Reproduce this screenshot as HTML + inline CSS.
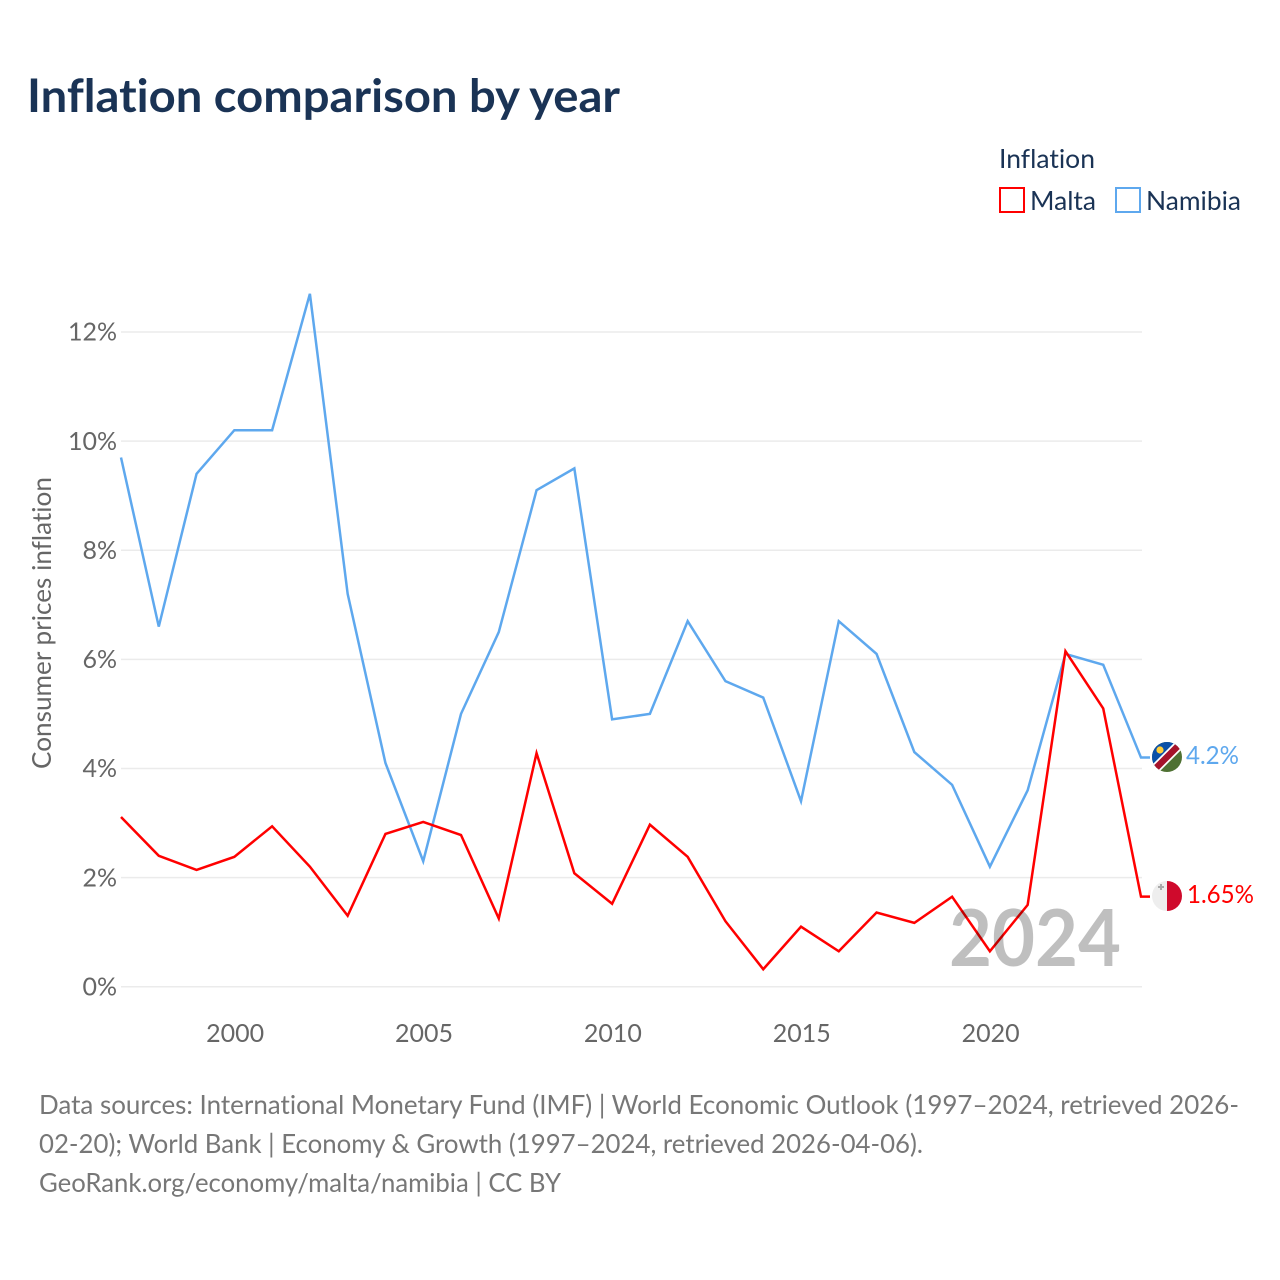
<!DOCTYPE html>
<html lang="en">
<head>
<meta charset="utf-8">
<title>Inflation comparison by year</title>
<style>
html,body{margin:0;padding:0;background:#fff;width:1280px;height:1280px;overflow:hidden}
svg{display:block}
text{font-family:"Lato","Carlito","Liberation Sans",sans-serif;font-variant-ligatures:none;font-feature-settings:"liga" 0,"clig" 0}
.tick{font-size:25px;fill:#666}
.src{font-size:26px;fill:#777}
.leg{font-size:26px;fill:#1a3355}
</style>
</head>
<body>
<svg id="chart" xmlns="http://www.w3.org/2000/svg" width="1280" height="1280" viewBox="0 0 1280 1280">
  <text x="27" y="112" font-size="46" font-weight="700" fill="#1a3355" textLength="593" lengthAdjust="spacingAndGlyphs">Inflation comparison by year</text>

  <g>
    <text class="leg" x="999" y="168" textLength="96" lengthAdjust="spacingAndGlyphs">Inflation</text>
    <rect x="1000" y="188" width="24" height="24" fill="#fff" stroke="#ff0000" stroke-width="2"/>
    <text class="leg" x="1030" y="210" textLength="66" lengthAdjust="spacingAndGlyphs">Malta</text>
    <rect x="1116" y="188" width="24" height="24" fill="#fff" stroke="#5ea8ee" stroke-width="2"/>
    <text class="leg" x="1146" y="210" textLength="95" lengthAdjust="spacingAndGlyphs">Namibia</text>
  </g>

  <g id="grid"></g>
  <g id="yticks"></g>
  <g id="xticks"></g>
  <text transform="translate(51,623) rotate(-90)" text-anchor="middle" font-size="26" fill="#666" textLength="292" lengthAdjust="spacingAndGlyphs">Consumer prices inflation</text>

  <g id="series"></g>

  <text x="1121" y="966" text-anchor="end" font-size="79" font-weight="700" fill="#000" fill-opacity="0.25" textLength="172" lengthAdjust="spacingAndGlyphs">2024</text>

  <g>
    <clipPath id="clip-na"><circle cx="1167" cy="757" r="15"/></clipPath>
    <g clip-path="url(#clip-na)">
      <rect x="1152" y="742" width="30" height="30" fill="#4f7133"/>
      <polygon points="1152,742 1182,742 1152,772" fill="#0a50a8"/>
      <line x1="1150" y1="774" x2="1184" y2="740" stroke="#fff" stroke-width="10"/>
      <line x1="1150" y1="774" x2="1184" y2="740" stroke="#a5122a" stroke-width="6.5"/>
      <circle cx="1160" cy="750" r="3.6" fill="#ffce3a"/>
    </g>
  </g>
  <g>
    <clipPath id="clip-mt"><circle cx="1167" cy="896" r="15"/></clipPath>
    <g clip-path="url(#clip-mt)">
      <rect x="1152" y="881" width="15" height="30" fill="#eeeeee"/>
      <rect x="1167" y="881" width="15" height="30" fill="#cf0a2c"/>
      <path d="M1161 884v6M1158 887h6" stroke="#aaaaaa" stroke-width="2"/>
    </g>
  </g>
  <g id="endlabels"></g>

  <g>
    <text class="src" x="39" y="1114" textLength="1200" lengthAdjust="spacingAndGlyphs">Data sources: International Monetary Fund (IMF) | World Economic Outlook (1997–2024, retrieved 2026-</text>
    <text class="src" x="39" y="1153" textLength="884" lengthAdjust="spacingAndGlyphs">02-20); World Bank | Economy &amp; Growth (1997–2024, retrieved 2026-04-06).</text>
    <text class="src" x="39" y="1192" textLength="522" lengthAdjust="spacingAndGlyphs">GeoRank.org/economy/malta/namibia | CC BY</text>
  </g>
</svg>
<script>
const startYear = 1997;
const endYear = 2024;
const yTickValues = [0, 2, 4, 6, 8, 10, 12];
const xTickYears = [2000, 2005, 2010, 2015, 2020];
const maltaValues = [3.11, 2.4, 2.14, 2.38, 2.94, 2.2, 1.3, 2.8, 3.02, 2.78, 1.25, 4.28, 2.08, 1.52, 2.97, 2.38, 1.2, 0.32, 1.1, 0.65, 1.36, 1.17, 1.65, 0.65, 1.5, 6.15, 5.1, 1.65];
const namibiaValues = [9.7, 6.6, 9.4, 10.2, 10.2, 12.7, 7.2, 4.1, 2.3, 5.0, 6.5, 9.1, 9.5, 4.9, 5.0, 6.7, 5.6, 5.3, 3.4, 6.7, 6.1, 4.3, 3.7, 2.2, 3.6, 6.1, 5.9, 4.2];
const maltaLabel = "1.65%";
const namibiaLabel = "4.2%";

const NS = "http://www.w3.org/2000/svg";
function xScale(year) { return 121 + (year - startYear) * (1141 - 121) / (endYear - startYear); }
function yScale(v) { return 986.7 - v * (986.7 - 332) / 12; }
function make(tag, attrs, parent, txt) {
  const el = document.createElementNS(NS, tag);
  for (const k in attrs) el.setAttribute(k, attrs[k]);
  if (txt !== undefined) el.textContent = txt;
  parent.appendChild(el);
  return el;
}

const grid = document.getElementById('grid');
const yticks = document.getElementById('yticks');
yTickValues.forEach(function (v) {
  const line = make('line', { x1: 121, x2: 1142, y1: yScale(v), y2: yScale(v), stroke: '#ebebeb', 'stroke-width': 1.5 }, grid);
  
  
  const t = make('text', { x: 117, y: yScale(v) + 8.7, 'text-anchor': 'end', class: 'tick' }, yticks, v + '%');
  
  
});

const xticks = document.getElementById('xticks');
xTickYears.forEach(function (y) {
  const t = make('text', { x: xScale(y) + 0.8, y: 1042, 'text-anchor': 'middle', class: 'tick' }, xticks, String(y));
  
  
});

const seriesGroup = document.getElementById('series');
const endlabels = document.getElementById('endlabels');
function drawSeries(values, color, name, label, labelX, labelLen) {
  const pts = values.map(function (v, i) { return xScale(startYear + i) + ',' + yScale(v); });
  const last = values[values.length - 1];
  pts.push((xScale(endYear) + 9) + ',' + yScale(last));
  const line = make('polyline', { points: pts.join(' '), fill: 'none', stroke: color, 'stroke-width': 2.5, 'stroke-linejoin': 'miter' }, seriesGroup);
  
  
  const t = make('text', { x: labelX, y: yScale(last) + 6.5, 'font-size': 25, fill: color, textLength: labelLen, lengthAdjust: 'spacingAndGlyphs' }, endlabels, label);
  
  
}
drawSeries(namibiaValues, '#5ea8ee', 'namibia', namibiaLabel, 1186, 53);
drawSeries(maltaValues, '#ff0000', 'malta', maltaLabel, 1187, 67);
</script>
</body>
</html>
